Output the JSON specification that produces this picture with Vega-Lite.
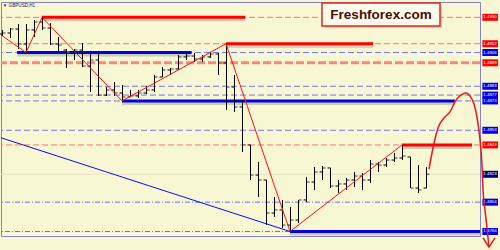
{
"$schema": "https://vega.github.io/schema/vega-lite/v6.json",
"width": 479, "height": 234, "autosize": "none",
"padding": {"left": 1, "top": 2, "right": 20, "bottom": 14},
"background": "#F8F7D4",
"config": {"view": {"stroke": "#8484C4", "strokeWidth": 1}, "font": "Liberation Sans"},
"datasets": {
"bars": [
{"k":0,"o":1.49186,"h":1.49214,"l":1.49173,"c":1.49193},
{"k":1,"o":1.49193,"h":1.49227,"l":1.49159,"c":1.49220},
{"k":2,"o":1.49220,"h":1.49254,"l":1.49084,"c":1.49118},
{"k":3,"o":1.49118,"h":1.49254,"l":1.49060,"c":1.49214},
{"k":4,"o":1.49214,"h":1.49282,"l":1.49166,"c":1.49268},
{"k":5,"o":1.49268,"h":1.49300,"l":1.49214,"c":1.49227},
{"k":6,"o":1.49227,"h":1.49261,"l":1.49111,"c":1.49118},
{"k":7,"o":1.49118,"h":1.49166,"l":1.49064,"c":1.49111},
{"k":8,"o":1.49077,"h":1.49084,"l":1.48955,"c":1.49064},
{"k":9,"o":1.49064,"h":1.49084,"l":1.49009,"c":1.49077},
{"k":10,"o":1.49077,"h":1.49125,"l":1.48961,"c":1.48968},
{"k":11,"o":1.48968,"h":1.49057,"l":1.48791,"c":1.49009},
{"k":12,"o":1.49009,"h":1.49057,"l":1.48764,"c":1.48770},
{"k":13,"o":1.48770,"h":1.48825,"l":1.48764,"c":1.48805},
{"k":14,"o":1.48805,"h":1.48859,"l":1.48764,"c":1.48784},
{"k":15,"o":1.48784,"h":1.48839,"l":1.48730,"c":1.48757},
{"k":16,"o":1.48757,"h":1.48805,"l":1.48757,"c":1.48764},
{"k":17,"o":1.48764,"h":1.48805,"l":1.48750,"c":1.48784},
{"k":18,"o":1.48784,"h":1.48832,"l":1.48777,"c":1.48805},
{"k":19,"o":1.48805,"h":1.48907,"l":1.48791,"c":1.48893},
{"k":20,"o":1.48893,"h":1.48961,"l":1.48893,"c":1.48941},
{"k":21,"o":1.48941,"h":1.48955,"l":1.48907,"c":1.48948},
{"k":22,"o":1.48948,"h":1.49043,"l":1.48941,"c":1.49030},
{"k":23,"o":1.49030,"h":1.49057,"l":1.49009,"c":1.49036},
{"k":24,"o":1.49036,"h":1.49057,"l":1.48995,"c":1.49016},
{"k":25,"o":1.49016,"h":1.49043,"l":1.48995,"c":1.49030},
{"k":26,"o":1.49030,"h":1.49064,"l":1.49023,"c":1.49050},
{"k":27,"o":1.49050,"h":1.49057,"l":1.48907,"c":1.48989},
{"k":28,"o":1.48989,"h":1.49120,"l":1.48668,"c":1.48825},
{"k":29,"o":1.48825,"h":1.48907,"l":1.48655,"c":1.48689},
{"k":30,"o":1.48689,"h":1.48736,"l":1.48382,"c":1.48430},
{"k":31,"o":1.48430,"h":1.48430,"l":1.48191,"c":1.48225},
{"k":32,"o":1.48225,"h":1.48314,"l":1.48075,"c":1.48191},
{"k":33,"o":1.48191,"h":1.48191,"l":1.47884,"c":1.47966},
{"k":34,"o":1.47966,"h":1.48075,"l":1.47939,"c":1.47987},
{"k":35,"o":1.47987,"h":1.48055,"l":1.47864,"c":1.47884},
{"k":36,"o":1.47884,"h":1.48007,"l":1.47840,"c":1.47918},
{"k":37,"o":1.47918,"h":1.48055,"l":1.47898,"c":1.48055},
{"k":38,"o":1.48055,"h":1.48211,"l":1.48041,"c":1.48177},
{"k":39,"o":1.48177,"h":1.48280,"l":1.48123,"c":1.48246},
{"k":40,"o":1.48246,"h":1.48286,"l":1.48191,"c":1.48273},
{"k":41,"o":1.48273,"h":1.48273,"l":1.48136,"c":1.48150},
{"k":42,"o":1.48150,"h":1.48191,"l":1.48102,"c":1.48164},
{"k":43,"o":1.48164,"h":1.48205,"l":1.48123,"c":1.48191},
{"k":44,"o":1.48191,"h":1.48246,"l":1.48143,"c":1.48218},
{"k":45,"o":1.48218,"h":1.48239,"l":1.48123,"c":1.48191},
{"k":46,"o":1.48191,"h":1.48327,"l":1.48171,"c":1.48300},
{"k":47,"o":1.48300,"h":1.48314,"l":1.48246,"c":1.48293},
{"k":48,"o":1.48293,"h":1.48341,"l":1.48280,"c":1.48327},
{"k":49,"o":1.48327,"h":1.48375,"l":1.48314,"c":1.48341},
{"k":50,"o":1.48341,"h":1.48430,"l":1.48327,"c":1.48355},
{"k":51,"o":1.48348,"h":1.48348,"l":1.48136,"c":1.48136},
{"k":52,"o":1.48136,"h":1.48293,"l":1.48102,"c":1.48123},
{"k":53,"o":1.48136,"h":1.48280,"l":1.48136,"c":1.48230}
],
"levels": [
{"p":1.4930,"kind":"rd"},{"p":1.4912,"kind":"rd"},{"p":1.4843,"kind":"rd"},
{"p":1.4906,"kind":"bd"},{"p":1.4883,"kind":"bd"},{"p":1.4877,"kind":"bd"},{"p":1.4873,"kind":"bd"},{"p":1.4853,"kind":"bd"},
{"p":1.4899,"kind":"sal"},
{"p":1.4804,"kind":"bdd"},{"p":1.4784,"kind":"bdd"},
{"p":1.4823,"kind":"cur"}
],
"segs": [
{"p":1.4930,"k1":5,"k2":30.4,"col":"r"},
{"p":1.4912,"k1":28,"k2":46.4,"col":"r"},
{"p":1.4906,"k1":1.9,"k2":23.7,"col":"b"},
{"p":1.4873,"k1":15,"k2":56.6,"col":"b"},
{"p":1.4843,"k1":50,"k2":58.75,"col":"r"},
{"p":1.4784,"k1":36,"k2":59.75,"col":"b"}
],
"tags": [
{"p":1.4930,"col":"r"},{"p":1.4912,"col":"r"},{"p":1.4906,"col":"b"},{"p":1.4899,"col":"r"},
{"p":1.4883,"col":"b"},{"p":1.4877,"col":"b"},{"p":1.4873,"col":"b"},{"p":1.4853,"col":"b"},
{"p":1.4843,"col":"r"},{"p":1.4823,"col":"n"},{"p":1.4804,"col":"b"},{"p":1.4784,"col":"b"}
],
"lines": [
{"s":"zig","o":0,"k":-0.125,"p":1.4918},
{"s":"zig","o":1,"k":3,"p":1.4906},
{"s":"zig","o":2,"k":5,"p":1.4930},
{"s":"zig","o":3,"k":15,"p":1.4873},
{"s":"zig","o":4,"k":28,"p":1.4912},
{"s":"zig","o":5,"k":36,"p":1.4784},
{"s":"zig","o":6,"k":50,"p":1.4843},
{"s":"diag","o":0,"k":-0.125,"p":1.48479},
{"s":"diag","o":1,"k":36,"p":1.4784},
{"s":"arc","o":0,"k":53.375,"p":1.48266},
{"s":"arc","o":1,"k":53.875,"p":1.48409},
{"s":"arc","o":2,"k":54.5,"p":1.48546},
{"s":"arc","o":3,"k":55.25,"p":1.48614},
{"s":"arc","o":4,"k":56,"p":1.48655},
{"s":"arc","o":5,"k":56.75,"p":1.48736},
{"s":"arc","o":6,"k":57.375,"p":1.48770},
{"s":"arc","o":7,"k":58,"p":1.48784},
{"s":"arc","o":8,"k":58.5,"p":1.48764},
{"s":"arc","o":9,"k":59,"p":1.48709},
{"s":"arc","o":10,"k":59.375,"p":1.48620},
{"s":"arc","o":11,"k":59.75,"p":1.48464},
{"s":"arc","o":12,"k":60,"p":1.48293},
{"s":"arc","o":13,"k":60.125,"p":1.48123},
{"s":"arc","o":14,"k":60.375,"p":1.47987},
{"s":"arc","o":15,"k":60.625,"p":1.47864},
{"s":"arc","o":16,"k":60.875,"p":1.47734},
{"s":"head","o":0,"k":60.125,"p":1.47796},
{"s":"head","o":1,"k":60.875,"p":1.47734},
{"s":"head","o":2,"k":61.625,"p":1.47796}
]
},
"layer": [
{"data":{"name":"levels"},"transform":[{"filter":"datum.kind=='cur'"}],
 "mark":{"type":"rule","color":"#E4E2C4","strokeWidth":1},
 "encoding":{"y":{"field":"p","type":"quantitative","scale":{"domain":[1.478093,1.494044],"nice":false,"zero":false},
   "axis":{"orient":"right","values":[1.4935,1.492,1.489,1.486,1.483,1.4815,1.48],"format":".4f","title":null,"grid":false,
     "labelFontSize":4.4,"labelColor":"#34346A","tickSize":2,"tickColor":"#5050A0","domainColor":"#8484C4","labelPadding":2,"labelOverlap":false}}}},
{"data":{"name":"levels"},"transform":[{"filter":"datum.kind=='rd'"}],
 "mark":{"type":"rule","color":"#F27A72","strokeWidth":1,"strokeDash":[6,3]},
 "encoding":{"y":{"field":"p","type":"quantitative","scale":{"domain":[1.478093,1.494044],"nice":false,"zero":false},"axis":null}}},
{"data":{"name":"levels"},"transform":[{"filter":"datum.kind=='bd'"}],
 "mark":{"type":"rule","color":"#7676EE","strokeWidth":1,"strokeDash":[6,3]},
 "encoding":{"y":{"field":"p","type":"quantitative","scale":{"domain":[1.478093,1.494044],"nice":false,"zero":false},"axis":null}}},
{"data":{"name":"levels"},"transform":[{"filter":"datum.kind=='sal'"}],
 "mark":{"type":"rule","color":"#F8887A","strokeWidth":3,"strokeDash":[8,3]},
 "encoding":{"y":{"field":"p","type":"quantitative","scale":{"domain":[1.478093,1.494044],"nice":false,"zero":false},"axis":null}}},
{"data":{"name":"levels"},"transform":[{"filter":"datum.kind=='bdd'"}],
 "mark":{"type":"rule","color":"#7070F0","strokeWidth":1,"strokeDash":[5,2,1,2]},
 "encoding":{"y":{"field":"p","type":"quantitative","scale":{"domain":[1.478093,1.494044],"nice":false,"zero":false},"axis":null}}},
{"data":{"name":"segs"},
 "mark":{"type":"rule","color":"#9A9A8C","strokeWidth":3,"yOffset":2.5,"opacity":0.45},
 "encoding":{"x":{"field":"k1","type":"quantitative","scale":{"domain":[-0.125,59.75],"nice":false,"zero":false},
   "axis":{"orient":"bottom","values":[0,4,8,12,16,20,24,28,32,36,40,44,48,52],"title":null,"grid":false,"domain":false,
     "labelExpr":"['28 Dec 2015','28 Dec 10:00','28 Dec 14:00','28 Dec 18:00','28 Dec 22:00','29 Dec 02:00','29 Dec 06:00','29 Dec 10:00','29 Dec 14:00','29 Dec 18:00','29 Dec 22:00','30 Dec 02:00','30 Dec 06:00','30 Dec 10:00'][datum.value/4]",
     "labelAlign":"left","labelFontSize":4.4,"labelColor":"#34346A","tickSize":2,"tickColor":"#5050A0","labelPadding":3,"labelOverlap":false,"labelFlush":false}},
  "x2":{"field":"k2"},
  "y":{"field":"p","type":"quantitative","scale":{"domain":[1.478093,1.494044],"nice":false,"zero":false},"axis":null}}},
{"data":{"name":"segs"},
 "mark":{"type":"rule","strokeWidth":3},
 "encoding":{"x":{"field":"k1","type":"quantitative","scale":{"domain":[-0.125,59.75],"nice":false,"zero":false},"axis":null},
  "x2":{"field":"k2"},
  "y":{"field":"p","type":"quantitative","scale":{"domain":[1.478093,1.494044],"nice":false,"zero":false},"axis":null},
  "color":{"field":"col","type":"nominal","scale":{"domain":["r","b","n"],"range":["#FF0000","#0000E6","#000080"]},"legend":null}}},
{"data":{"name":"bars"},
 "mark":{"type":"rule","color":"#000000","strokeWidth":1,"xOffset":0.5},
 "encoding":{"x":{"field":"k","type":"quantitative","scale":{"domain":[-0.125,59.75],"nice":false,"zero":false},"axis":null},
  "y":{"field":"l","type":"quantitative","scale":{"domain":[1.478093,1.494044],"nice":false,"zero":false},"axis":null},
  "y2":{"field":"h"}}},
{"data":{"name":"bars"},
 "mark":{"type":"rule","color":"#000000","strokeWidth":1,"xOffset":-2.5,"x2Offset":0.5},
 "encoding":{"x":{"field":"k","type":"quantitative","scale":{"domain":[-0.125,59.75],"nice":false,"zero":false},"axis":null},
  "x2":{"field":"k"},
  "y":{"field":"o","type":"quantitative","scale":{"domain":[1.478093,1.494044],"nice":false,"zero":false},"axis":null}}},
{"data":{"name":"bars"},
 "mark":{"type":"rule","color":"#7A7A72","strokeWidth":1.5,"xOffset":1,"x2Offset":3.5},
 "encoding":{"x":{"field":"k","type":"quantitative","scale":{"domain":[-0.125,59.75],"nice":false,"zero":false},"axis":null},
  "x2":{"field":"k"},
  "y":{"field":"c","type":"quantitative","scale":{"domain":[1.478093,1.494044],"nice":false,"zero":false},"axis":null}}},
{"data":{"name":"lines"},"transform":[{"filter":"datum.s=='diag'"}],
 "mark":{"type":"line","color":"#0A0AF0","strokeWidth":1},
 "encoding":{"x":{"field":"k","type":"quantitative","scale":{"domain":[-0.125,59.75],"nice":false,"zero":false},"axis":null},
  "y":{"field":"p","type":"quantitative","scale":{"domain":[1.478093,1.494044],"nice":false,"zero":false},"axis":null},
  "order":{"field":"o"}}},
{"data":{"name":"lines"},"transform":[{"filter":"datum.s=='zig'"}],
 "mark":{"type":"line","color":"#FF1010","strokeWidth":1},
 "encoding":{"x":{"field":"k","type":"quantitative","scale":{"domain":[-0.125,59.75],"nice":false,"zero":false},"axis":null},
  "y":{"field":"p","type":"quantitative","scale":{"domain":[1.478093,1.494044],"nice":false,"zero":false},"axis":null},
  "order":{"field":"o"}}},
{"data":{"name":"tags"},
 "mark":{"type":"rule","strokeWidth":7},
 "encoding":{"x":{"datum":60.05,"type":"quantitative","scale":{"domain":[-0.125,59.75],"nice":false,"zero":false},"axis":null},
  "x2":{"datum":62.0},
  "y":{"field":"p","type":"quantitative","scale":{"domain":[1.478093,1.494044],"nice":false,"zero":false},"axis":null},
  "color":{"field":"col","type":"nominal","scale":{"domain":["r","b","n"],"range":["#FF0000","#0000E6","#000080"]},"legend":null}}},
{"data":{"name":"tags"},
 "mark":{"type":"text","color":"#FFFFFF","fontSize":4.4,"align":"center","baseline":"middle"},
 "encoding":{"x":{"datum":61.0,"type":"quantitative","scale":{"domain":[-0.125,59.75],"nice":false,"zero":false},"axis":null},
  "y":{"field":"p","type":"quantitative","scale":{"domain":[1.478093,1.494044],"nice":false,"zero":false},"axis":null},
  "text":{"field":"p","type":"quantitative","format":".4f"}}},
{"data":{"name":"lines"},"transform":[{"filter":"datum.s=='arc'"}],
 "mark":{"type":"line","color":"#E81818","strokeWidth":1.5,"interpolate":"monotone"},
 "encoding":{"x":{"field":"k","type":"quantitative","scale":{"domain":[-0.125,59.75],"nice":false,"zero":false},"axis":null},
  "y":{"field":"p","type":"quantitative","scale":{"domain":[1.478093,1.494044],"nice":false,"zero":false},"axis":null},
  "order":{"field":"o"}}},
{"data":{"name":"lines"},"transform":[{"filter":"datum.s=='head'"}],
 "mark":{"type":"line","color":"#E81818","strokeWidth":1.5},
 "encoding":{"x":{"field":"k","type":"quantitative","scale":{"domain":[-0.125,59.75],"nice":false,"zero":false},"axis":null},
  "y":{"field":"p","type":"quantitative","scale":{"domain":[1.478093,1.494044],"nice":false,"zero":false},"axis":null},
  "order":{"field":"o"}}},
{"data":{"values":[{}]},
 "mark":{"type":"rect","fill":"#A8A898","opacity":0.5,"xOffset":2,"x2Offset":2,"yOffset":2,"y2Offset":2},
 "encoding":{"x":{"datum":40,"type":"quantitative","scale":{"domain":[-0.125,59.75],"nice":false,"zero":false},"axis":null},
  "x2":{"datum":54.75},
  "y":{"datum":1.49398,"type":"quantitative","scale":{"domain":[1.478093,1.494044],"nice":false,"zero":false},"axis":null},
  "y2":{"datum":1.49241}}},
{"data":{"values":[{}]},
 "mark":{"type":"rect","fill":"#FCFBEA","stroke":"#E02828","strokeWidth":1.5},
 "encoding":{"x":{"datum":40,"type":"quantitative","scale":{"domain":[-0.125,59.75],"nice":false,"zero":false},"axis":null},
  "x2":{"datum":54.75},
  "y":{"datum":1.49398,"type":"quantitative","scale":{"domain":[1.478093,1.494044],"nice":false,"zero":false},"axis":null},
  "y2":{"datum":1.49241}}},
{"data":{"values":[{"t":"Freshforex.com"}]},
 "mark":{"type":"text","font":"Liberation Sans","fontWeight":"bold","fontSize":13.5,"color":"#4A0C0C","align":"center","baseline":"middle"},
 "encoding":{"x":{"datum":47.375,"type":"quantitative","scale":{"domain":[-0.125,59.75],"nice":false,"zero":false},"axis":null},
  "y":{"datum":1.49319,"type":"quantitative","scale":{"domain":[1.478093,1.494044],"nice":false,"zero":false},"axis":null},
  "text":{"field":"t"}}},
{"data":{"values":[{"t":"▼ GBPUSD,H1"}]},
 "mark":{"type":"text","fontSize":4.6,"color":"#24244A","align":"left","baseline":"middle"},
 "encoding":{"x":{"datum":0.1,"type":"quantitative","scale":{"domain":[-0.125,59.75],"nice":false,"zero":false},"axis":null},
  "y":{"datum":1.49375,"type":"quantitative","scale":{"domain":[1.478093,1.494044],"nice":false,"zero":false},"axis":null},
  "text":{"field":"t"}}}
]
}
